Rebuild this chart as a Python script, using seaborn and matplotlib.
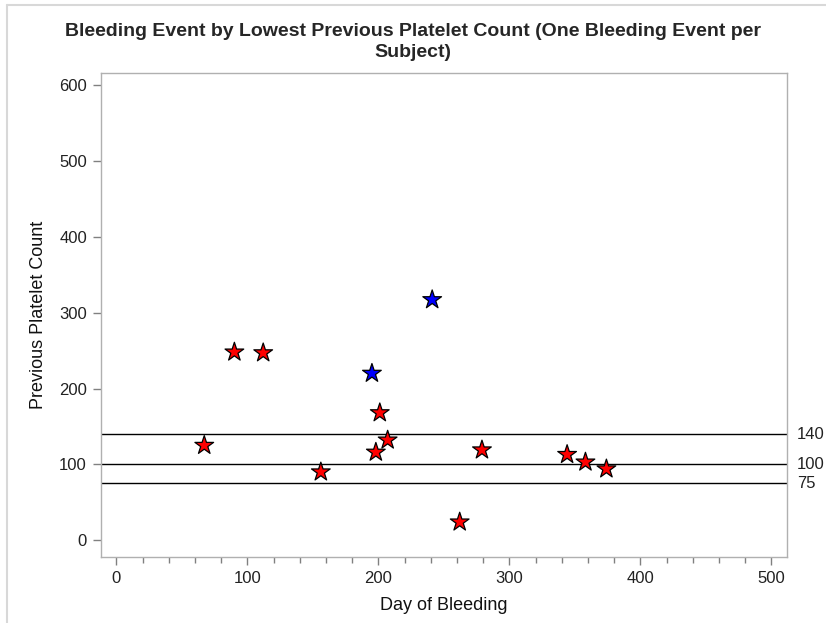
import matplotlib
matplotlib.use("Agg")
import matplotlib.pyplot as plt
import seaborn as sns
import pandas as pd
from matplotlib.ticker import MultipleLocator

# Bleeding events: day of bleeding vs. lowest previous platelet count
red_days = [67, 90, 112, 156, 198, 201, 207, 262, 279, 344, 358, 374]
red_counts = [125, 248, 247, 90, 116, 168, 132, 24, 119, 113, 103, 94]
blue_days = [195, 241]
blue_counts = [220, 317]

# Reference thresholds
ref_levels = [140, 100, 75]
ref_labels = ["140", "100", "75"]

x_ticks = [0, 100, 200, 300, 400, 500]
y_ticks = [0, 100, 200, 300, 400, 500, 600]

df = pd.DataFrame({
    "day": red_days + blue_days,
    "count": red_counts + blue_counts,
    "group": ["red"] * len(red_days) + ["blue"] * len(blue_days),
})

sns.set_theme(style="white")
plt.rcParams["font.family"] = ["Liberation Sans", "DejaVu Sans"]

fig = plt.figure(figsize=(8.26, 6.23), dpi=100)
ax = fig.add_axes([0.122, 0.106, 0.831, 0.777])

for y in ref_levels:
    ax.axhline(y, color="black", lw=1.0, zorder=1)

sns.scatterplot(data=df, x="day", y="count", hue="group",
                palette={"red": "#ff0000", "blue": "#0000ff"},
                marker="*", s=200, edgecolor="black", linewidth=0.9,
                legend=False, ax=ax, zorder=3)

ax.set_xlim(-12, 512)
ax.set_ylim(-22, 616)
ax.set_xticks(x_ticks)
ax.set_yticks(y_ticks)
ax.xaxis.set_minor_locator(MultipleLocator(20))

for sp in ax.spines.values():
    sp.set_color("#b0b0b0")
    sp.set_linewidth(1.0)

ax.tick_params(axis="both", which="major", direction="out", length=6,
               width=1, color="#808080", labelsize=12, labelcolor="#222222",
               bottom=True, left=True, pad=4)
ax.tick_params(axis="x", which="minor", direction="out", length=4,
               width=1, color="#808080", bottom=True)

ax.set_xlabel("Day of Bleeding", fontsize=13, labelpad=8, color="#111111")
ax.set_ylabel("Previous Platelet Count", fontsize=13, labelpad=9, color="#111111")

for y, lab in zip(ref_levels, ref_labels):
    ax.annotate(lab, xy=(1.0, y), xycoords=("axes fraction", "data"),
                xytext=(7, 0), textcoords="offset points",
                va="center", ha="left", fontsize=12, color="#222222")

fig.text(0.5, 0.949, "Bleeding Event by Lowest Previous Platelet Count (One Bleeding Event per",
         ha="center", va="center", fontsize=14, fontweight="bold")
fig.text(0.5, 0.915, "Subject)", ha="center", va="center", fontsize=14, fontweight="bold")

# light page border on the top and left edges
fig.add_artist(plt.Line2D([0.009, 1.0], [0.992, 0.992], color="#d8d8d8", lw=1.5,
                          transform=fig.transFigure))
fig.add_artist(plt.Line2D([0.009, 0.009], [0.0, 0.992], color="#d8d8d8", lw=1.5,
                          transform=fig.transFigure))

fig.savefig("out.png", dpi=100)
